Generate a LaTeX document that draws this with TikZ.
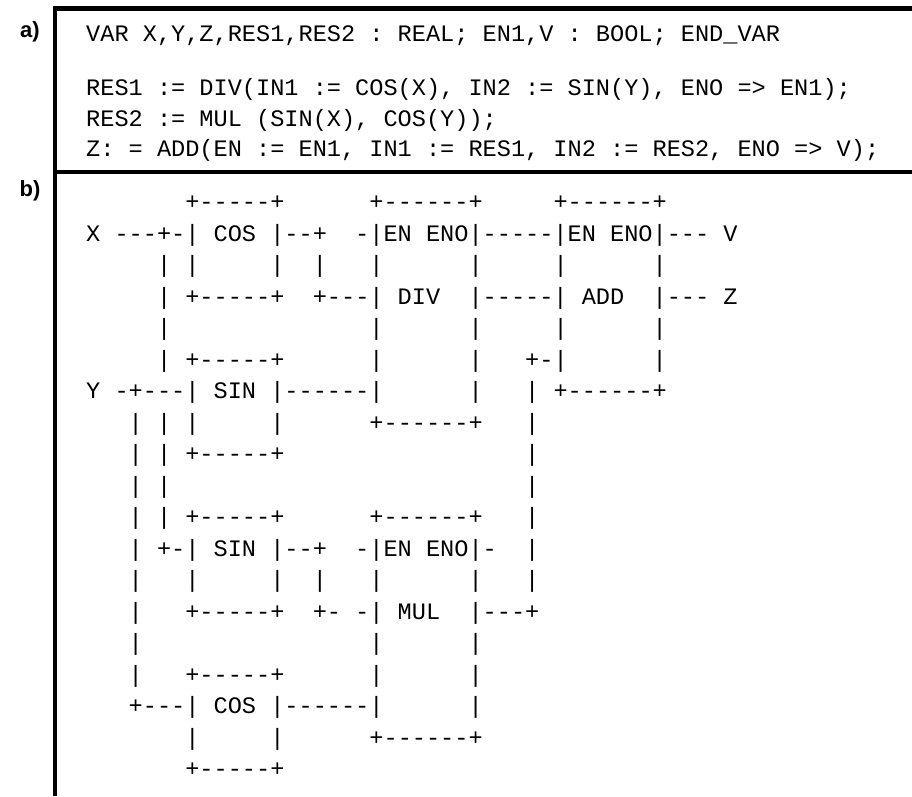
\documentclass[tikz,border=0pt]{standalone}
\usepackage{fontspec}
\setsansfont{Liberation Sans}
\setmonofont{Liberation Mono}

% listing lines: keep every space as typed
{\obeyspaces\gdef {\ }}
\newcommand\listline{\begingroup\obeyspaces\listlineaux}
\newcommand\listlineaux[1]{#1\endgroup}

\begin{document}
\begin{tikzpicture}[x=1pt, y=-1pt,
    codeline/.style={anchor=base west, inner sep=0pt,
                     font=\ttfamily\fontsize{23.6}{28}\selectfont},
    partlabel/.style={anchor=base, inner sep=0pt,
                      font=\sffamily\bfseries\fontsize{22}{26}\selectfont},
    outerrule/.style={line width=4.5pt, line join=miter},
    seprule/.style={line width=3.5pt}
  ]
    \useasboundingbox (0,0) rectangle (912,796);

    % Frame
    \coordinate (topright)   at (912,8.5);
    \coordinate (corner)     at (55,8.5);
    \coordinate (bottomleft) at (55,796);
    \coordinate (sepleft)    at (55,172);
    \coordinate (sepright)   at (912,172);
    \draw[outerrule] (topright) -- (corner) -- (bottomleft);
    \draw[seprule] (sepleft) -- (sepright);

    % Part labels
    \node[partlabel] (labela) at (30,37)  {a)};
    \node[partlabel] (labelb) at (30,196) {b)};

    % a) textual form
    \node[codeline] (stvar) at (86,41.5)  {\listline{VAR X,Y,Z,RES1,RES2 : REAL; EN1,V : BOOL; END\_VAR}};
    \node[codeline] (stdiv) at (86,95.5)  {\listline{RES1 := DIV(IN1 := COS(X), IN2 := SIN(Y), ENO => EN1);}};
    \node[codeline] (stmul) at (86,126)   {\listline{RES2 := MUL (SIN(X), COS(Y));}};
    \node[codeline] (stadd) at (86,156.5) {\listline{Z: = ADD(EN := EN1, IN1 := RES1, IN2 := RES2, ENO => V);}};

    % b) graphical form
    \node[codeline] (fbd01) at (86,209.5) {\listline{       +-----+      +------+     +------+}};
    \node[codeline] (fbd02) at (86,241)   {\listline{X ---+-| COS |--+  -|EN ENO|-----|EN ENO|--- V}};
    \node[codeline] (fbd03) at (86,272.5) {\listline{     | |     |  |   |      |     |      |}};
    \node[codeline] (fbd04) at (86,304)   {\listline{     | +-----+  +---| DIV  |-----| ADD  |--- Z}};
    \node[codeline] (fbd05) at (86,335.5) {\listline{     |              |      |     |      |}};
    \node[codeline] (fbd06) at (86,367)   {\listline{     | +-----+      |      |   +-|      |}};
    \node[codeline] (fbd07) at (86,398.5) {\listline{Y -+---| SIN |------|      |   | +------+}};
    \node[codeline] (fbd08) at (86,430)   {\listline{   | | |     |      +------+   |}};
    \node[codeline] (fbd09) at (86,461.5) {\listline{   | | +-----+                 |}};
    \node[codeline] (fbd10) at (86,493)   {\listline{   | |                         |}};
    \node[codeline] (fbd11) at (86,524.5) {\listline{   | | +-----+      +------+   |}};
    \node[codeline] (fbd12) at (86,556)   {\listline{   | +-| SIN |--+  -|EN ENO|-  |}};
    \node[codeline] (fbd13) at (86,587.5) {\listline{   |   |     |  |   |      |   |}};
    \node[codeline] (fbd14) at (86,619)   {\listline{   |   +-----+  +- -| MUL  |---+}};
    \node[codeline] (fbd15) at (86,650.5) {\listline{   |                |      |}};
    \node[codeline] (fbd16) at (86,682)   {\listline{   |   +-----+      |      |}};
    \node[codeline] (fbd17) at (86,713.5) {\listline{   +---| COS |------|      |}};
    \node[codeline] (fbd18) at (86,745)   {\listline{       |     |      +------+}};
    \node[codeline] (fbd19) at (86,776.5) {\listline{       +-----+}};
\end{tikzpicture}
\end{document}
